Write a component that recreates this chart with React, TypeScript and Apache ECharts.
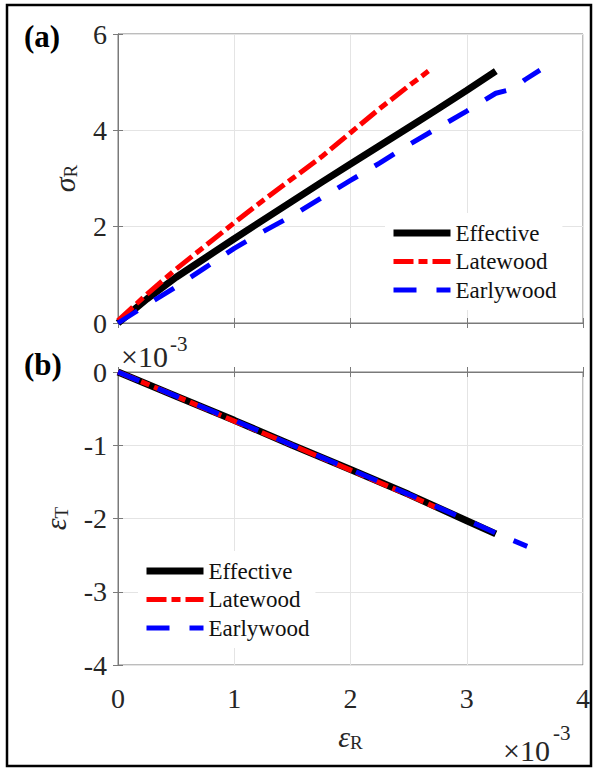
import React, { useEffect, useRef } from "react";
import * as echarts from "echarts";

// ---------- data (strain in units of 1e-3) ----------
const seriesNames = ["Effective", "Latewood", "Earlywood"];

const xTicks = [0, 1, 2, 3, 4];
const stressTicks = [0, 2, 4, 6];
const strainTTicks = [-4, -3, -2, -1, 0];

// (a) sigma_R vs eps_R
const stressEffective = [
  [0, 0], [0.25, 0.5], [0.5, 0.95], [0.75, 1.35], [1.0, 1.75], [1.25, 2.14],
  [1.5, 2.53], [1.75, 2.92], [2.0, 3.3], [2.25, 3.68], [2.5, 4.06], [2.75, 4.44],
  [3.0, 4.83], [3.25, 5.23],
];
const stressLatewood = [
  [0, 0.05], [0.25, 0.6], [0.5, 1.12], [0.75, 1.6], [1.0, 2.08], [1.25, 2.55],
  [1.5, 3.0], [1.75, 3.45], [2.0, 3.95], [2.25, 4.45], [2.5, 4.92], [2.67, 5.23],
];
const stressEarlywood = [
  [0, 0], [0.25, 0.38], [0.5, 0.75], [0.75, 1.15], [1.0, 1.55], [1.25, 1.9],
  [1.5, 2.23], [1.75, 2.6], [2.0, 2.96], [2.25, 3.32], [2.5, 3.7], [2.75, 4.05],
  [3.0, 4.4], [3.25, 4.77], [3.4, 4.86], [3.5, 5.05], [3.63, 5.25],
];

// (b) eps_T vs eps_R
const strainEffective = [
  [0, 0], [0.5, -0.33], [1.0, -0.66], [1.5, -1.0], [2.0, -1.33], [2.5, -1.67],
  [3.0, -2.03], [3.25, -2.21],
];
const strainLatewood = [
  [0, 0], [0.5, -0.33], [1.0, -0.67], [1.5, -1.0], [2.0, -1.34], [2.5, -1.68],
  [2.75, -1.86],
];
const strainEarlywood = [
  [0, 0], [0.5, -0.33], [1.0, -0.66], [1.5, -1.0], [2.0, -1.33], [2.5, -1.67],
  [3.0, -2.02], [3.25, -2.2], [3.52, -2.38],
];

// ---------- styles ----------
const SERIF = "Liberation Serif";
const AXIS_GRAY = "#7a7a7a";
const GRID_LINE = "#e4e4e4";
const TXT = "#262626";

const lineStyles: any[] = [
  { color: "#000000", width: 7, type: "solid" },
  { color: "#ff0000", width: 5, type: [20, 5, 9, 5] },
  { color: "#0000ff", width: 5, type: [23, 20] },
];

const gridA = { left: 118, top: 34, width: 465, height: 289 };
const gridB = { left: 118, top: 372, width: 465, height: 293 };

function xAxis(gridIndex: number, position: string, labels: boolean, split: boolean, extra: any = {}) {
  return {
    type: "value",
    gridIndex,
    position,
    min: xTicks[0],
    max: xTicks[xTicks.length - 1],
    interval: 1,
    axisLine: { show: true, lineStyle: { color: AXIS_GRAY, width: 1 } },
    axisTick: { show: true, inside: true, length: 5, lineStyle: { color: AXIS_GRAY } },
    axisLabel: {
      show: labels,
      margin: 19,
      fontFamily: SERIF,
      fontSize: 28,
      color: TXT,
    },
    splitLine: { show: split, lineStyle: { color: GRID_LINE, width: 1 } },
    ...extra,
  };
}

function yAxis(gridIndex: number, position: string, ticks: number[], interval: number, labels: boolean, split: boolean, extra: any = {}) {
  return {
    type: "value",
    gridIndex,
    position,
    min: ticks[0],
    max: ticks[ticks.length - 1],
    interval,
    axisLine: { show: true, lineStyle: { color: AXIS_GRAY, width: 1 } },
    axisTick: { show: true, inside: true, length: 5, lineStyle: { color: AXIS_GRAY } },
    axisLabel: {
      show: labels,
      margin: 11,
      fontFamily: SERIF,
      fontSize: 28,
      color: TXT,
    },
    splitLine: { show: split, lineStyle: { color: GRID_LINE, width: 1 } },
    ...extra,
  };
}

const nameRich = {
  a: { fontFamily: SERIF, fontSize: 30, fontStyle: "italic", color: TXT },
  b: { fontFamily: SERIF, fontSize: 19, color: TXT, padding: [12, 0, 0, 0] },
};

function legend(left: number, top: number) {
  return {
    show: true,
    orient: "vertical",
    left,
    top,
    padding: [8, 6, 8, 5],
    backgroundColor: "#ffffff",
    itemWidth: 57,
    itemHeight: 14,
    itemGap: 4.5,
    selectedMode: false,
    itemStyle: { color: "rgba(0,0,0,0)", borderColor: "rgba(0,0,0,0)", borderWidth: 0, opacity: 0 },
    textStyle: { fontFamily: SERIF, fontSize: 23, color: "#111111", lineHeight: 24 },
    data: seriesNames.map((n, i) => ({ name: n, lineStyle: { width: lineStyles[i].width } })),
  };
}

export default function App() {
  const ref = useRef<HTMLDivElement>(null);

  useEffect(() => {
    if (!ref.current) return;
    const chart = echarts.init(ref.current, null, { renderer: "svg" });

    const stressData = [stressEffective, stressLatewood, stressEarlywood];
    const strainData = [strainEffective, strainLatewood, strainEarlywood];

    const series: any[] = [];
    seriesNames.forEach((n, i) => {
      series.push({
        type: "line",
        name: n,
        xAxisIndex: 0,
        yAxisIndex: 0,
        data: stressData[i],
        symbol: "none",
        smooth: false,
        lineStyle: lineStyles[i],
        z: 3 + i,
      });
    });
    seriesNames.forEach((n, i) => {
      series.push({
        type: "line",
        name: n,
        xAxisIndex: 2,
        yAxisIndex: 2,
        data: strainData[i],
        symbol: "none",
        smooth: false,
        lineStyle: lineStyles[i],
        z: 3 + i,
      });
    });

    const option: any = {
      animation: false,
      backgroundColor: "#ffffff",
      textStyle: { fontFamily: SERIF },
      grid: [
        { ...gridA, show: true, borderColor: AXIS_GRAY, borderWidth: 1, backgroundColor: "transparent", containLabel: false },
        { ...gridB, show: true, borderColor: AXIS_GRAY, borderWidth: 1, backgroundColor: "transparent", containLabel: false },
      ],
      xAxis: [
        xAxis(0, "bottom", false, true),
        xAxis(0, "top", false, false),
        xAxis(1, "bottom", true, true, {
          name: "{a|ε}{b|R}",
          nameLocation: "middle",
          nameGap: 56,
          nameTextStyle: { fontFamily: SERIF, rich: nameRich },
        }),
        xAxis(1, "top", false, false),
      ],
      yAxis: [
        yAxis(0, "left", stressTicks, 2, true, true, {
          name: "{a|σ}{b|R}",
          nameLocation: "middle",
          nameRotate: 90,
          nameGap: 38,
          nameTextStyle: { fontFamily: SERIF, rich: nameRich },
        }),
        yAxis(0, "right", stressTicks, 2, false, false),
        yAxis(1, "left", strainTTicks, 1, true, true, {
          name: "{a|ε}{b|T}",
          nameLocation: "middle",
          nameRotate: 90,
          nameGap: 47,
          nameTextStyle: { fontFamily: SERIF, rich: nameRich },
        }),
        yAxis(1, "right", strainTTicks, 1, false, false),
      ],
      legend: [legend(385, 213), legend(138, 551)],
      series,
      graphic: [
        {
          type: "rect",
          shape: { x: 7, y: 5, width: 584, height: 761 },
          style: { fill: "none", stroke: "#000000", lineWidth: 2.5 },
          z: 100,
        },
        {
          type: "text",
          x: 24,
          y: 36,
          style: { text: "(a)", fontFamily: SERIF, fontSize: 31, fontWeight: "bold", fill: "#000", verticalAlign: "middle" },
        },
        {
          type: "text",
          x: 24,
          y: 364,
          style: { text: "(b)", fontFamily: SERIF, fontSize: 31, fontWeight: "bold", fill: "#000", verticalAlign: "middle" },
        },
        {
          type: "text",
          x: 121,
          y: 356,
          style: { text: "×10", fontFamily: SERIF, fontSize: 30, fill: TXT, verticalAlign: "middle" },
        },
        {
          type: "text",
          x: 170,
          y: 344,
          style: { text: "-3", fontFamily: SERIF, fontSize: 21, fill: TXT, verticalAlign: "middle" },
        },
        {
          type: "text",
          x: 503,
          y: 750,
          style: { text: "×10", fontFamily: SERIF, fontSize: 30, fill: TXT, verticalAlign: "middle" },
        },
        {
          type: "text",
          x: 553,
          y: 733,
          style: { text: "-3", fontFamily: SERIF, fontSize: 21, fill: TXT, verticalAlign: "middle" },
        },
      ],
    };

    chart.setOption(option);
    return () => chart.dispose();
  }, []);

  return (
    <div
      ref={ref}
      style={{ position: "fixed", left: 0, top: 0, width: 598, height: 769, background: "#fff" }}
    />
  );
}
